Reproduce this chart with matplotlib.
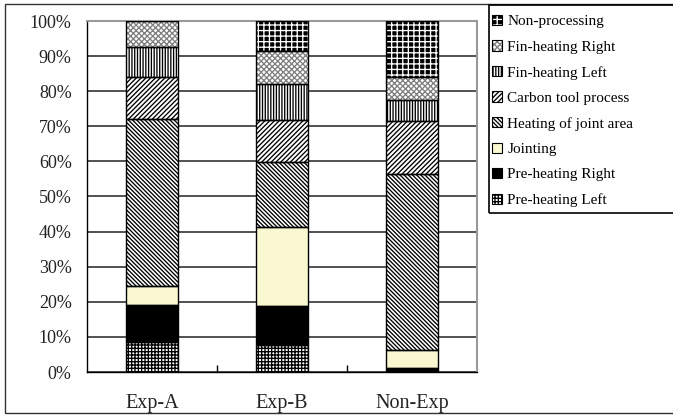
import matplotlib
matplotlib.use("Agg")
import matplotlib.pyplot as plt
from matplotlib.patches import Patch, Rectangle
from matplotlib.legend_handler import HandlerTuple
from matplotlib.ticker import FixedLocator

plt.rcParams["hatch.linewidth"] = 0.95

# Share of each process step (percent of total time)
categories = ["Exp-A", "Exp-B", "Non-Exp"]
step_names = ["Pre-heating Left", "Pre-heating Right", "Jointing",
              "Heating of joint area", "Carbon tool process",
              "Fin-heating Left", "Fin-heating Right", "Non-processing"]
pre_heating_left = [8.5, 7.7, 0.5]
pre_heating_right = [10.5, 11.2, 0.7]
jointing = [5.5, 22.3, 5.1]
heating_joint_area = [47.5, 18.6, 50.0]
carbon_tool_process = [12.1, 12.0, 15.3]
fin_heating_left = [8.5, 10.3, 5.9]
fin_heating_right = [7.4, 9.3, 6.6]
non_processing = [0.0, 8.6, 15.9]
y_ticks = [0, 10, 20, 30, 40, 50, 60, 70, 80, 90, 100]

series = [pre_heating_left, pre_heating_right, jointing, heating_joint_area,
          carbon_tool_process, fin_heating_left, fin_heating_right, non_processing]

# face colour, hatch colour, hatch pattern for each step
styles = [
    ("white", "black", "+" * 5),
    ("black", "black", None),
    ("#FAF8D0", "black", None),
    ("white", "black", "\\" * 8),
    ("white", "black", "/" * 7),
    ("white", "black", "|" * 6),
    ("white", "#808080", "x" * 6),
    ("black", "white", "+" * 3),
]

SERIF = "Liberation Serif"
W, H = 673, 415
fig = plt.figure(figsize=(W / 100, H / 100), dpi=100)
ax = fig.add_axes([87 / W, 1 - 372 / H, 390 / W, 351 / H])

x = list(range(len(categories)))
bottom = [0.0] * len(categories)
handles = []
for vals, (face, hcol, hatch) in zip(series, styles):
    ax.bar(x, vals, width=0.4, bottom=bottom, color=face, edgecolor=hcol,
           hatch=hatch, linewidth=0, zorder=2)
    ax.bar(x, vals, width=0.4, bottom=bottom, fill=False, edgecolor="black",
           linewidth=1.0, zorder=3)
    bottom = [b + v for b, v in zip(bottom, vals)]
    handles.append((Patch(facecolor=face, edgecolor=hcol, hatch=hatch, linewidth=0),
                    Patch(fill=False, edgecolor="black", linewidth=0.8)))

ax.set_xlim(-0.5, len(categories) - 0.5)
ax.set_ylim(0, 100)
ax.set_yticks(y_ticks)
ax.set_yticklabels([f"{t}%" for t in y_ticks], family=SERIF,
                   fontsize=13, color="#222222")
ax.tick_params(axis="y", length=0, pad=11)
ax.yaxis.grid(True, color="#333333", linewidth=1.2, zorder=0)
ax.set_axisbelow(True)

ax.set_xticks(x)
ax.set_xticklabels(categories, family=SERIF, fontsize=14.5, color="#222222")
ax.tick_params(axis="x", which="major", length=0, pad=15.5)
ax.xaxis.set_minor_locator(FixedLocator([0.5, 1.5]))
ax.tick_params(axis="x", which="minor", direction="in", length=5,
               width=1, color="black")

for side in ("left", "bottom"):
    ax.spines[side].set_color("black")
    ax.spines[side].set_linewidth(1.0)
for side in ("top", "right"):
    ax.spines[side].set_color("#999999")
    ax.spines[side].set_linewidth(1.5)

# outer frame and legend frame
fig.patches.append(Rectangle((5 / W, 1 - 413 / H), 700 / W, 409 / H,
                             transform=fig.transFigure, fill=False,
                             edgecolor="#333333", linewidth=1.0))
fig.patches.append(Rectangle((489 / W, 1 - 213 / H), 200 / W, 208 / H,
                             transform=fig.transFigure, fill=False,
                             edgecolor="black", linewidth=1.2))

leg = fig.legend(handles[::-1], step_names[::-1],
                 handler_map={tuple: HandlerTuple(ndivide=1, pad=0)},
                 loc="upper left", bbox_to_anchor=(492 / W, 1 - 15 / H),
                 frameon=False, prop={"family": SERIF, "size": 11},
                 handlelength=0.65, handleheight=0.65, handletextpad=0.35,
                 labelspacing=0.78, borderpad=0.0, borderaxespad=0.0)

fig.savefig("out.png", dpi=100)
